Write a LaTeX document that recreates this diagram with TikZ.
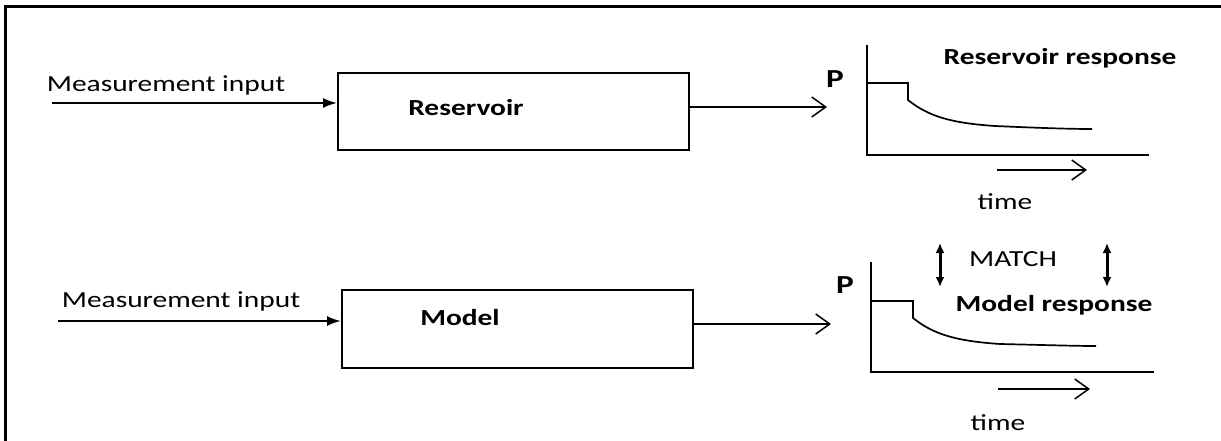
\documentclass[tikz,border=0pt]{standalone}
\usepackage{fontspec}
\setmainfont{Carlito}[FakeStretch=1.28]
\usetikzlibrary{arrows.meta}
\begin{document}
\begin{tikzpicture}[x=1pt,y=-1pt,
  every node/.style={font=\fontsize{23}{25}\selectfont, inner sep=0pt},
  blockbox/.style={draw, line width=2pt, inner sep=0pt},
  boldlbl/.style={font=\fontsize{23}{25}\selectfont\bfseries},
  plbl/.style={font=\fontsize{26}{28}\selectfont\bfseries},
  inarrow/.style={line width=2pt, -{Latex[length=14pt,width=10pt]}},
  outarrow/.style={line width=1.5pt, -{Straight Barb[length=14pt,width=20pt,line width=1.5pt]}},
  axisline/.style={line width=2pt},
  curveline/.style={line width=1.7pt},
  matcharrow/.style={line width=3pt, {Latex[length=10pt,width=9pt]}-{Latex[length=10pt,width=9pt]}}
]
\useasboundingbox (0,0) rectangle (1221,441);
% frame
\draw[line width=3pt] (5,441) -- (5,7) -- (1221,7);

% ---- top row ----
\node[blockbox, minimum width=351pt, minimum height=77pt] (res) at (513.5,111.5) {};
\node[boldlbl] (restxt) at (466,108) {Reservoir};
\node (in1txt) at (166,85) {Measurement input};
\coordinate (in1) at (52,103);
\draw[inarrow] (in1) -- (res.west |- in1);
\coordinate (out1) at (827,107);
\draw[outarrow] (res.east |- out1) -- (out1);

% top plot
\coordinate (o1) at (867,155);
\coordinate (t1) at (867,45);
\coordinate (x1) at (1149,155);
\draw[axisline] (t1) -- (o1) -- (x1);
\draw[curveline] (867,83) -- (908,83) -- (908,100) .. controls (928,116) and (950,123) .. (995,126) .. controls (1040,128) and (1070,129) .. (1092,129);
\node[plbl] (p1) at (835,79) {P};
\node[boldlbl] (rresp) at (1060,58) {Reservoir response};
\coordinate (ta1) at (997,170);
\coordinate (tb1) at (1087,170);
\draw[outarrow] (ta1) -- (tb1);
\node (time1) at (1005,202) {time};

% ---- bottom row ----
\node[blockbox, minimum width=351pt, minimum height=78pt] (mod) at (517.5,329) {};
\node[boldlbl] (modtxt) at (460,318) {Model};
\node (in2txt) at (181,301) {Measurement input};
\coordinate (in2) at (58,321);
\draw[inarrow] (in2) -- (mod.west |- in2);
\coordinate (out2) at (831,324);
\draw[outarrow] (mod.east |- out2) -- (out2);

% bottom plot
\coordinate (o2) at (871,372);
\coordinate (t2) at (871,262);
\coordinate (x2) at (1154,372);
\draw[axisline] (t2) -- (o2) -- (x2);
\draw[curveline] (871,301) -- (913,301) -- (913,318) .. controls (933,334) and (955,341) .. (1000,344) .. controls (1045,345) and (1075,346) .. (1096,346);
\node[plbl] (p2) at (845,285) {P};
\node[boldlbl] (mresp) at (1054,305) {Model response};
\coordinate (ta2) at (998,389);
\coordinate (tb2) at (1090,389);
\draw[outarrow] (ta2) -- (tb2);
\node (time2) at (998,423) {time};

% match
\node (match) at (1013,259) {MATCH};
\coordinate (ma1) at (940,243);
\coordinate (mb1) at (940,287);
\coordinate (ma2) at (1107,243);
\coordinate (mb2) at (1107,287);
\draw[matcharrow] (ma1) -- (mb1);
\draw[matcharrow] (ma2) -- (mb2);
\end{tikzpicture}
\end{document}
